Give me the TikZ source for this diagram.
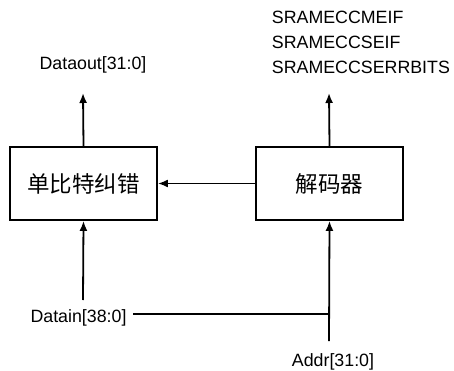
\documentclass[tikz,border=0pt]{standalone}
\usepackage{fontspec}
\setmainfont{Liberation Sans}
\newfontfamily\cjk{Noto Sans CJK SC}
\usetikzlibrary{arrows.meta}

\begin{document}
\begin{tikzpicture}[x=1pt,y=-1pt,line width=1.8pt,
	blk/.style={draw,rectangle,minimum width=147pt,minimum height=73pt,inner sep=0pt,font=\cjk\fontsize{22.5}{26}\selectfont},
	sig/.style={inner sep=0pt,font=\fontsize{17.8}{25}\selectfont},
	>={Latex[length=10pt,width=8pt]}]
	\useasboundingbox (0,0) rectangle (454,371);
	% blocks
	\node[blk] (corr) at (83.5,183.5) {单比特纠错};
	\node[blk] (dec) at (329.5,183.5) {解码器};
	% signal names
	\node[sig] (dout) at (93,65) {Dataout[31:0]};
	\node[sig,align=left,anchor=west] (flags) at (271,42) {SRAMECCMEIF\\SRAMECCSEIF\\SRAMECCSERRBITS};
	\node[sig] (din) at (78.5,318) {Datain[38:0]};
	\node[sig] (addr) at (333,362) {Addr[31:0]};
	\coordinate (douttip) at (83,93);
	\coordinate (flagtip) at (329,93);
	\coordinate (dinup) at (83,300);
	\coordinate (dinstart) at (133,314);
	\coordinate (junc) at (329,314);
	\coordinate (addrend) at (329,341);
	% connections
	\draw[->] (corr.north) -- (douttip);
	\draw[->] (dec.north) -- (flagtip);
	\draw[->] (dec.west) -- (corr.east);
	\draw[->] (dinup) -- (corr.south);
	\draw (dinstart) -- (junc);
	\draw[->] (addrend) -- (dec.south);
\end{tikzpicture}
\end{document}
